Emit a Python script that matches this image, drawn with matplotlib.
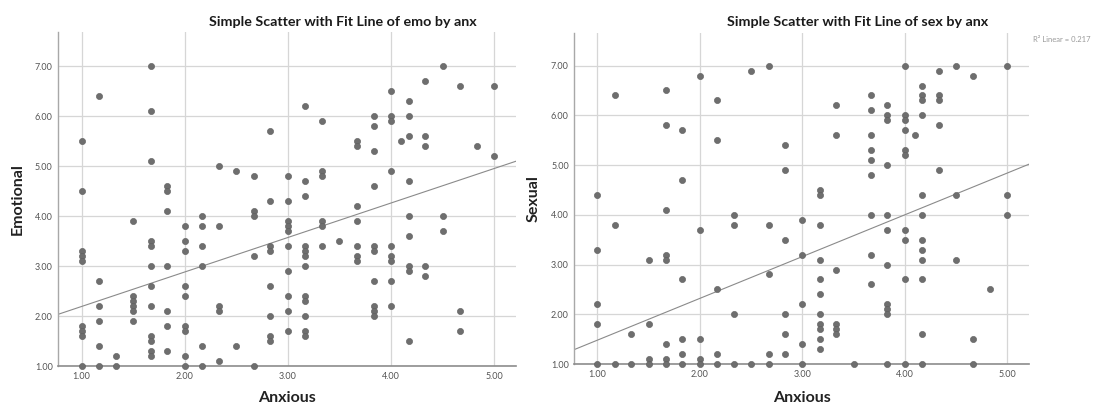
import numpy as np
import matplotlib
matplotlib.use("Agg")
import matplotlib.pyplot as plt

# anx levels (x), shared by both panels
anx = [1.00, 1.17, 1.33, 1.50, 1.67, 1.83, 2.00, 2.17, 2.33, 2.50, 2.67, 2.83, 3.00,
       3.17, 3.33, 3.50, 3.67, 3.83, 4.00, 4.10, 4.17, 4.33, 4.50, 4.67, 4.83, 5.00]

# emo values at each anx level
emo = [
    [5.5, 4.5, 3.3, 3.2, 3.1, 1.8, 1.7, 1.6, 1.0],
    [6.4, 2.7, 2.2, 1.9, 1.4, 1.0],
    [1.2, 1.0],
    [3.9, 2.4, 2.3, 2.2, 2.1, 1.9],
    [7.0, 6.1, 5.1, 3.5, 3.4, 3.0, 2.6, 2.2, 1.6, 1.5, 1.3, 1.2],
    [4.6, 4.5, 4.1, 3.0, 2.1, 1.8, 1.3],
    [3.8, 3.5, 3.3, 2.6, 2.4, 1.8, 1.7, 1.2, 1.0],
    [4.0, 3.8, 3.4, 3.0, 1.4, 1.0],
    [5.0, 3.8, 2.2, 2.1, 1.1],
    [4.9, 1.4],
    [4.8, 4.1, 4.0, 3.2, 1.0],
    [5.7, 4.3, 3.4, 3.3, 2.6, 2.0, 1.6, 1.5],
    [4.8, 4.3, 3.9, 3.8, 3.7, 3.4, 2.9, 2.4, 2.1, 1.7],
    [6.2, 4.7, 4.4, 3.4, 3.3, 3.2, 3.0, 2.4, 2.3, 2.0, 1.7, 1.6],
    [5.9, 4.9, 4.8, 3.9, 3.8, 3.4],
    [3.5],
    [5.5, 5.4, 4.2, 3.9, 3.4, 3.2, 3.1],
    [6.0, 5.8, 5.3, 4.6, 3.4, 3.3, 2.7, 2.2, 2.1, 2.0],
    [6.5, 6.0, 5.9, 4.9, 3.4, 3.2, 3.1, 2.7, 2.2],
    [5.5],
    [6.3, 6.0, 5.6, 4.7, 4.0, 3.6, 3.0, 2.9, 1.5],
    [6.7, 5.6, 5.4, 3.0, 2.8],
    [7.0, 4.0, 3.7],
    [6.6, 2.1, 1.7],
    [5.4],
    [6.6, 5.2],
]

# sex values at each anx level
sex = [
    [4.4, 3.3, 2.2, 1.8, 1.0],
    [6.4, 3.8, 1.0],
    [1.6, 1.0],
    [3.1, 1.8, 1.1, 1.0],
    [6.5, 5.8, 4.1, 3.2, 3.1, 1.4, 1.1, 1.0],
    [5.7, 4.7, 2.7, 1.5, 1.2, 1.0],
    [6.8, 3.7, 1.5, 1.1, 1.0],
    [6.3, 5.5, 2.5, 1.2, 1.0],
    [4.0, 3.8, 2.0, 1.0],
    [6.9, 1.0],
    [7.0, 3.8, 2.8, 1.2, 1.0],
    [5.4, 4.9, 3.5, 2.0, 1.6, 1.2],
    [3.9, 3.2, 2.2, 1.4, 1.0],
    [4.5, 4.4, 3.8, 3.1, 2.7, 2.4, 2.0, 1.8, 1.7, 1.5, 1.3],
    [6.2, 5.6, 2.9, 1.8, 1.7, 1.6],
    [1.0],
    [6.4, 6.1, 5.6, 5.3, 5.1, 4.8, 4.0, 3.2, 2.6],
    [6.2, 6.0, 5.9, 5.0, 4.0, 3.7, 3.0, 2.2, 2.1, 2.0, 1.0],
    [7.0, 6.0, 5.9, 5.7, 5.3, 5.2, 3.7, 3.5, 2.7, 1.0],
    [5.6],
    [6.6, 6.4, 6.3, 6.0, 4.4, 4.0, 3.5, 3.3, 3.1, 2.7, 1.6, 1.0],
    [6.9, 6.4, 6.3, 5.8, 4.9],
    [7.0, 4.4, 3.1],
    [6.8, 1.5, 1.0],
    [2.5],
    [7.0, 4.4, 4.0],
]

# fit lines (intercept, slope)
fit_emo = (1.50, 0.69)
fit_sex = (0.64, 0.84)
r2_sex = 0.217

xticks = [1, 2, 3, 4, 5]
yticks = [1, 2, 3, 4, 5, 6, 7]

plt.rcParams['font.family'] = ['Lato', 'DejaVu Sans']

W, H = 1110, 404
fig = plt.figure(figsize=(W / 100, H / 100), dpi=100)


def px_axes(x0, x1, y0, y1):
    return fig.add_axes([x0 / W, 1 - y1 / H, (x1 - x0) / W, (y1 - y0) / H])


def flatten(levels, cols):
    xs, ys = [], []
    for x, col in zip(levels, cols):
        xs += [x] * len(col)
        ys += col
    return np.array(xs), np.array(ys)


def draw_panel(ax, cols, fit, ylabel, ytop, box, title_x, title):
    x, y = flatten(anx, cols)
    ax.set_xlim(0.775, 5.215)
    ax.set_ylim(1.0, ytop)
    ax.set_xticks(xticks)
    ax.set_yticks(yticks)
    ax.set_xticklabels([f'{v:.2f}' for v in xticks])
    ax.set_yticklabels([f'{v:.2f}' for v in yticks])
    ax.grid(True, color='#d6d6d6', lw=0.9, zorder=0)
    ax.set_axisbelow(True)
    for s in ['top', 'right']:
        ax.spines[s].set_visible(False)
    ax.spines['left'].set_color('#a8a8a8')
    ax.spines['bottom'].set_color('#8c8c8c')
    ax.spines['left'].set_linewidth(1.0)
    ax.spines['bottom'].set_linewidth(1.2)
    ax.tick_params(length=0, labelsize=6.5, labelcolor='#555555', pad=4)
    ax.scatter(x, y, s=20, color='#6e6e6e', edgecolors='#5e5e5e',
               linewidths=0.4, zorder=3, clip_on=False)
    xl = np.array(ax.get_xlim())
    ax.plot(xl, fit[0] + fit[1] * xl, color='#8a8a8a', lw=0.8, zorder=2)
    x0, x1, y0, y1 = box
    fig.text((x0 + x1) / 2 / W, 1 - 398 / H, 'Anxious', ha='center', va='center',
             fontsize=11.5, fontweight='bold', color='#222222')
    fig.text((x0 - 41) / W, 1 - (y0 + y1) / 2 / H, ylabel, ha='center', va='center',
             rotation=90, fontsize=11.5, fontweight='bold', color='#222222')
    fig.text(title_x / W, 1 - 22 / H, title, ha='center', va='center',
             fontsize=10.3, fontweight='bold', color='#1a1a1a')


box1 = (58.3, 516.4, 31.5, 366)
ax1 = px_axes(*box1)
draw_panel(ax1, emo, fit_emo, 'Emotional', 7.69, box1, 343,
           'Simple Scatter with Fit Line of emo by anx')

box2 = (574.4, 1029.3, 33.3, 364)
ax2 = px_axes(*box2)
draw_panel(ax2, sex, fit_sex, 'Sexual', 7.65, box2, 857.5,
           'Simple Scatter with Fit Line of sex by anx')

fig.text(1033 / W, 1 - 39 / H, f'R\u00b2 Linear = {r2_sex:.3f}', ha='left',
         va='center', fontsize=5.5, color='#9a9a9a')

fig.savefig('out.png', dpi=100)
